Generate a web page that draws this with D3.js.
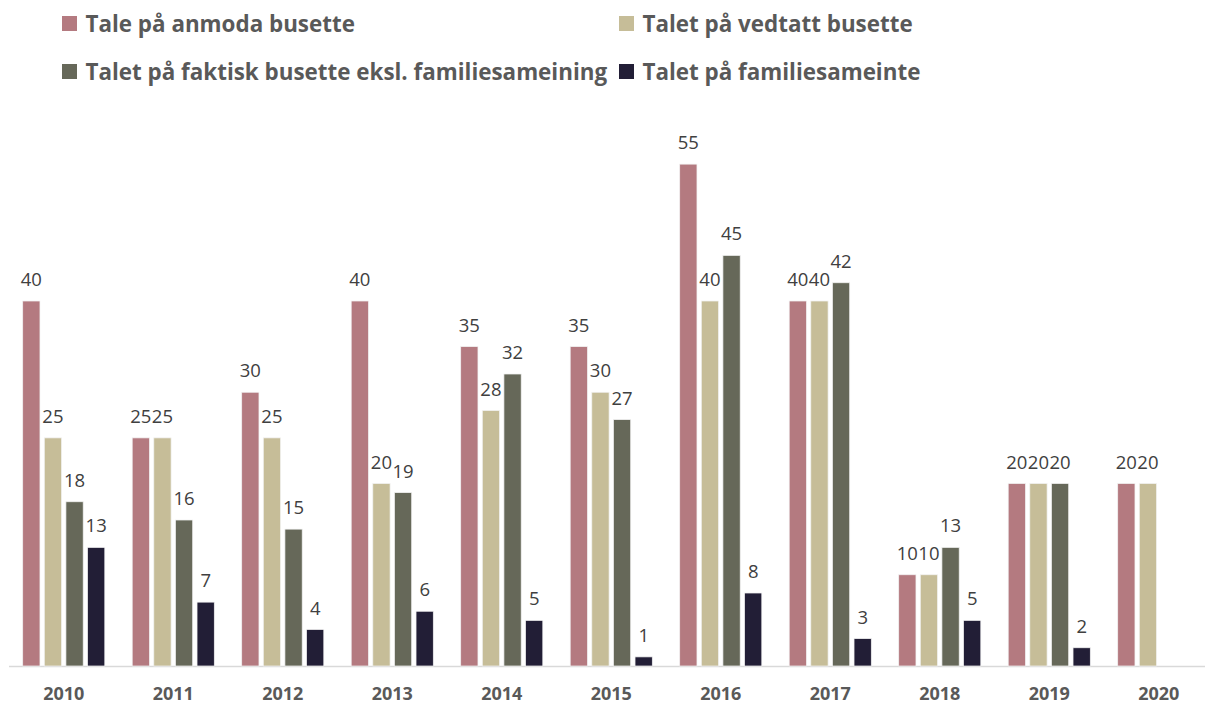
<!DOCTYPE html>
<html>
<head>
<meta charset="utf-8">
<script src="https://cdn.jsdelivr.net/npm/d3@7"></script>
<style>
  body { margin: 0; background: #fff; }
</style>
</head>
<body>
<div id="drawing"></div>
<script>
// years along the bottom
const years = ["2010", "2011", "2012", "2013", "2014", "2015", "2016", "2017", "2018", "2019", "2020"];

// series names, in legend order
const seriesNames = [
  "Tale på anmoda busette",
  "Talet på vedtatt busette",
  "Talet på faktisk busette eksl. familiesameining",
  "Talet på familiesameinte"
];
const seriesColors = ["#B47A80", "#C6BD98", "#666859", "#221E36"];

// values per series (null = no bar)
const anmoda    = [40, 25, 30, 40, 35, 35, 55, 40, 10, 20, 20];
const vedtatt   = [25, 25, 25, 20, 28, 30, 40, 40, 10, 20, 20];
const faktisk   = [18, 16, 15, 19, 32, 27, 45, 42, 13, 20, null];
const familie   = [13, 7, 4, 6, 5, 1, 8, 3, 5, 2, null];

const width = 1205;
const height = 704;
let drawing;
let drawingArea;

function setup(){
  drawing = d3.select("#drawing").append("svg")
    .attr("width", width)
    .attr("height", height)
    .style("background", "#fff")
    .style("display", "block");

  drawingArea = drawing.append("g");
}

function make(){
  const allSeries = [anmoda, vedtatt, faktisk, familie];

  // flatten into rows the bars can bind to
  let barData = [];
  years.forEach((yr, i) => {
    allSeries.forEach((s, j) => {
      if(s[i] !== null){
        barData.push({year: yr, series: j, value: s[i]});
      }
    });
  });

  const x0 = d3.scaleBand()
    .domain(years)
    .range([9, 1213.5])
    .paddingInner(0.25)
    .paddingOuter(0.125);

  const x1 = d3.scaleBand()
    .domain(d3.range(seriesNames.length))
    .range([0, x0.bandwidth()])
    .paddingInner(0.2);

  const y = d3.scaleLinear()
    .domain([0, 60])
    .range([666, 118.5]);

  // baseline
  drawingArea.append("line")
    .attr("x1", 9)
    .attr("x2", width)
    .attr("y1", y(0) + 0.5)
    .attr("y2", y(0) + 0.5)
    .style("stroke", "#D9D9D9")
    .style("stroke-width", 1.5);

  // bars
  drawingArea.selectAll(".bar")
    .data(barData)
    .enter()
    .append("rect")
      .attr("class", "bar")
      .attr("x", (d) => x0(d.year) + x1(d.series))
      .attr("y", (d) => y(d.value))
      .attr("width", x1.bandwidth())
      .attr("height", (d) => y(0) - y(d.value))
      .style("fill", (d) => seriesColors[d.series])
      .style("stroke", "#F2F2F2")
      .style("stroke-width", 0.75);

  // value labels
  drawingArea.selectAll(".valueLabel")
    .data(barData)
    .enter()
    .append("text")
      .attr("class", "valueLabel")
      .attr("x", (d) => x0(d.year) + x1(d.series) + x1.bandwidth() / 2)
      .attr("y", (d) => y(d.value) - 15)
      .attr("text-anchor", "middle")
      .style("font-family", "'Open Sans', sans-serif")
      .style("font-size", "18.5px")
      .style("fill", "#404040")
      .text((d) => d.value);

  // x axis labels
  const xAxis = d3.axisBottom(x0).tickSize(0).tickPadding(0);
  const axisG = drawingArea.append("g")
    .attr("transform", `translate(0, ${y(0)})`)
    .call(xAxis);
  axisG.select(".domain").remove();
  axisG.selectAll("text")
    .attr("dy", null)
    .attr("y", 34)
    .style("font-family", "'Open Sans', sans-serif")
    .style("font-weight", "bold")
    .style("font-size", "18px")
    .style("fill", "#595959");

  // legend, two rows by two columns
  const legendCols = [62, 619];
  const legendRows = [16, 64];
  const legend = drawingArea.selectAll(".legendItem")
    .data(seriesNames)
    .enter()
    .append("g")
      .attr("class", "legendItem")
      .attr("transform", (d, i) => `translate(${legendCols[i % 2]}, ${legendRows[Math.floor(i / 2)]})`);

  legend.append("rect")
    .attr("width", 15)
    .attr("height", 15)
    .style("fill", (d, i) => seriesColors[i]);

  legend.append("text")
    .attr("x", 23.5)
    .attr("y", 16)
    .style("font-family", "'Open Sans', sans-serif")
    .style("font-weight", "bold")
    .style("font-size", "22.4px")
    .style("fill", "#595959")
    .text((d) => d);
}

setup();
make();
</script>
</body>
</html>
